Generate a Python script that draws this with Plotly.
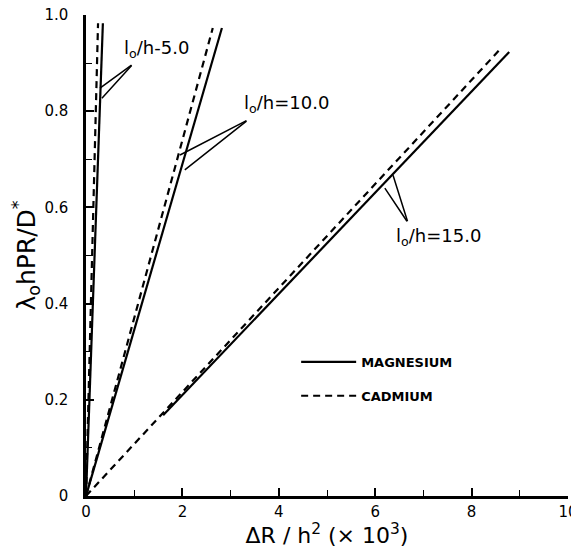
import plotly.graph_objects as go

# ---- data ----
mg5_x = [0, 0.35];  mg5_y = [0, 0.983]
cd5_x = [0, 0.25];  cd5_y = [0, 0.983]
mg10_x = [0, 2.82]; mg10_y = [0, 0.973]
cd10_x = [0, 2.63]; cd10_y = [0, 0.973]
mg15_x = [1.6, 8.78]; mg15_y = [0.168, 0.923]
cd15_x = [0, 8.63];   cd15_y = [0, 0.933]

x_tickvals = [0, 2, 4, 6, 8, 10]
x_ticktext = ["0", "2", "4", "6", "8", "10"]
y_tickvals = [0, 0.2, 0.4, 0.6, 0.8, 1.0]
y_ticktext = ["0", "0.2", "0.4", "0.6", "0.8", "1.0"]

labels = ["l<sub>o</sub>/h-5.0", "l<sub>o</sub>/h=10.0", "l<sub>o</sub>/h=15.0"]
label_x = [0.75, 3.24, 6.38]
label_y = [0.929, 0.815, 0.538]
# leader lines: apex and two end points on curves
apex_x = [0.975, 3.36, 6.68]
apex_y = [0.898, 0.782, 0.568]
end1_x = [0.29, 1.95, 6.20]; end1_y = [0.848, 0.709, 0.640]
end2_x = [0.33, 2.05, 6.37]; end2_y = [0.827, 0.678, 0.667]

FONT = "DejaVu Sans"
LW = 2.2
DASH = "7px,5px"

fig = go.Figure()
series = [
    (mg5_x, mg5_y, "solid", "MAGNESIUM", True, "mg"),
    (cd5_x, cd5_y, DASH, "CADMIUM", True, "cd"),
    (mg10_x, mg10_y, "solid", "MAGNESIUM", False, "mg"),
    (cd10_x, cd10_y, DASH, "CADMIUM", False, "cd"),
    (mg15_x, mg15_y, "solid", "MAGNESIUM", False, "mg"),
    (cd15_x, cd15_y, DASH, "CADMIUM", False, "cd"),
]
for xs, ys, dash, name, show, grp in series:
    fig.add_trace(go.Scatter(x=xs, y=ys, mode="lines", name=name,
                             legendgroup=grp, showlegend=show,
                             line=dict(color="black", width=LW, dash=dash)))

annotations = []
for i in range(3):
    annotations.append(dict(x=label_x[i], y=label_y[i], text=labels[i], showarrow=False,
                            xanchor="left", yanchor="middle",
                            font=dict(family=FONT, size=18, color="black")))
    for ex, ey in ((end1_x[i], end1_y[i]), (end2_x[i], end2_y[i])):
        annotations.append(dict(x=ex, y=ey, ax=apex_x[i], ay=apex_y[i],
                                axref="x", ayref="y", xref="x", yref="y",
                                text="", showarrow=True, arrowhead=0,
                                arrowwidth=1.5, arrowcolor="black"))

# page body adds an 8px offset, so the figure is smaller and margins compensate
fig.update_layout(
    width=571, height=540,
    margin=dict(l=78, r=11, t=7, b=52, autoexpand=False),
    paper_bgcolor="white", plot_bgcolor="white",
    font=dict(family=FONT, color="black"),
    annotations=annotations,
    legend=dict(x=0.436, y=0.31, xanchor="left", yanchor="top",
                bgcolor="rgba(0,0,0,0)", itemwidth=55, tracegroupgap=14,
                font=dict(family=FONT, size=13, weight="bold")),
    xaxis=dict(range=[0, 10], tickvals=x_tickvals, ticktext=x_ticktext, automargin=False,
               showgrid=False, zeroline=False, showline=True, linecolor="black", linewidth=2.5,
               ticks="inside", ticklen=8, tickwidth=1.5, tickcolor="black",
               minor=dict(dtick=1, ticks="inside", ticklen=6, tickwidth=1.2, tickcolor="black"),
               tickfont=dict(family=FONT, size=15), ticklabeloverflow="allow",
               title=dict(text="\u2002ΔR / h<sup>2</sup> (× 10<sup>3</sup>)", font=dict(family=FONT, size=22),
                          standoff=6)),
    yaxis=dict(range=[0, 1.0], tickvals=y_tickvals, ticktext=y_ticktext, automargin=False,
               showgrid=False, zeroline=False, showline=True, linecolor="black", linewidth=2.5,
               ticks="inside", ticklen=8, tickwidth=1.5, tickcolor="black",
               minor=dict(dtick=0.1, ticks="inside", ticklen=6, tickwidth=1.2, tickcolor="black"),
               tickfont=dict(family=FONT, size=15), ticklabelstandoff=12, ticklabeloverflow="allow",
               title=dict(text="λ<sub>o</sub>hPR/D<sup>*</sup>", font=dict(family=FONT, size=25),
                          standoff=6)),
)

fig.write_html("out.html")
